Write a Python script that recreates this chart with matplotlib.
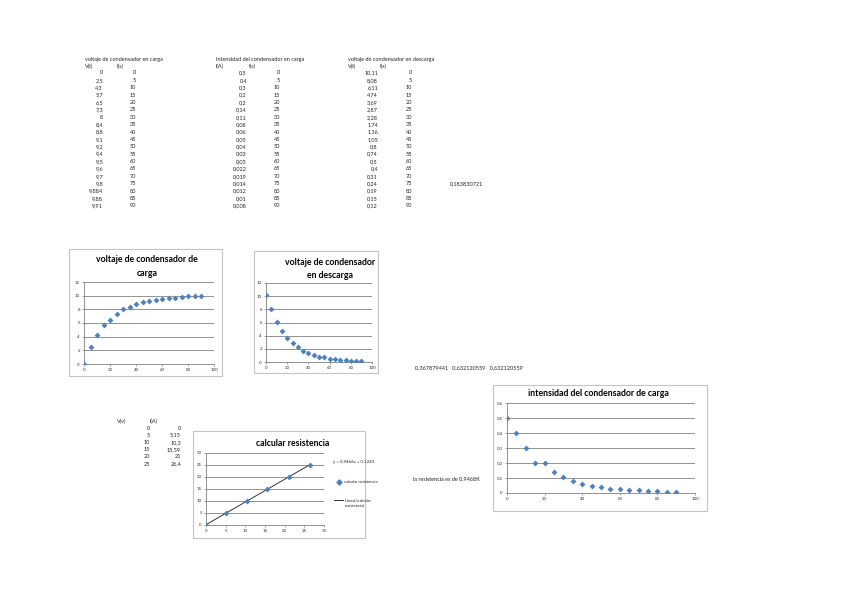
import numpy as np
import matplotlib
matplotlib.use("Agg")
import matplotlib.pyplot as plt
from matplotlib.patches import Rectangle

plt.rcParams['font.family'] = ['Lato', 'DejaVu Sans']

W, H = 848, 599

# ---------------- data ----------------
t_s = [0, 5, 10, 15, 20, 25, 30, 35, 40, 45, 50, 55, 60, 65, 70, 75, 80, 85, 90]
v_carga = [0, 2.5, 4.3, 5.7, 6.5, 7.3, 8, 8.4, 8.8, 9.1, 9.2, 9.4, 9.5, 9.6, 9.7, 9.8, 9.884, 9.88, 9.91]
v_carga_lbl = ["0", "2,5", "4,3", "5,7", "6,5", "7,3", "8", "8,4", "8,8", "9,1", "9,2", "9,4", "9,5",
               "9,6", "9,7", "9,8", "9,884", "9,88", "9,91"]
i_carga = [0.5, 0.4, 0.3, 0.2, 0.2, 0.14, 0.11, 0.08, 0.06, 0.05, 0.04, 0.03, 0.03, 0.022, 0.019,
           0.014, 0.012, 0.01, 0.008]
i_carga_lbl = ["0,5", "0,4", "0,3", "0,2", "0,2", "0,14", "0,11", "0,08", "0,06", "0,05", "0,04",
               "0,03", "0,03", "0,022", "0,019", "0,014", "0,012", "0,01", "0,008"]
v_desc = [10.11, 8.08, 6.11, 4.74, 3.69, 2.87, 2.28, 1.74, 1.36, 1.05, 0.8, 0.74, 0.5, 0.4, 0.31,
          0.24, 0.19, 0.15, 0.12]
v_desc_lbl = ["10,11", "8,08", "6,11", "4,74", "3,69", "2,87", "2,28", "1,74", "1,36", "1,05", "0,8",
              "0,74", "0,5", "0,4", "0,31", "0,24", "0,19", "0,15", "0,12"]
res_v = [0, 5, 10, 15, 20, 25]
res_i = [0, 5.15, 10.3, 15.59, 21, 26.4]
res_i_lbl = ["0", "5,15", "10,3", "15,59", "21", "26,4"]

BLUE = '#4F81BD'
GRID = '#808080'
FS_T = 4.0
MS = 9

fig = plt.figure(figsize=(W / 100, H / 100), dpi=100)
fig.patch.set_facecolor('white')


def fx(x):
    return x / W


def fy(y):
    return 1 - y / H


def txt(x, y, s, ha='left', size=FS_T, **kw):
    fig.text(fx(x), fy(y), s, ha=ha, va='center', fontsize=size, color='#222222', **kw)


def box(x0, y0, x1, y1):
    fig.patches.append(Rectangle((fx(x0), fy(y1)), fx(x1) - fx(x0), fy(y0) - fy(y1),
                                 transform=fig.transFigure, fill=False,
                                 edgecolor='#C4C4C4', lw=0.8))


def make_ax(x0, x1, ytop, ybot):
    ax = fig.add_axes([fx(x0), fy(ybot), fx(x1) - fx(x0), fy(ytop) - fy(ybot)])
    ax.set_facecolor('none')
    for s in ['top', 'right']:
        ax.spines[s].set_visible(False)
    for s in ['left', 'bottom']:
        ax.spines[s].set_color(GRID)
        ax.spines[s].set_linewidth(0.6)
    ax.grid(axis='y', color=GRID, lw=0.6)
    ax.set_axisbelow(True)
    ax.tick_params(labelsize=3.2, length=1.5, width=0.5, color=GRID, pad=1.5, labelcolor='#333333')
    return ax


# ---------------- tables ----------------
row_y = [73 + i * 7.38 for i in range(19)]

txt(85, 59, "voltaje de condensador en carga")
txt(85, 66, "V(t)")
txt(117, 66, "t(s)")
for y, a, b in zip(row_y, v_carga_lbl, t_s):
    txt(103, y, a, ha='right')
    txt(136, y, str(b), ha='right')

txt(216, 59, "Intensidad del condensador en carga")
txt(216, 66, "I(A)")
txt(249, 66, "t(s)")
for y, a, b in zip(row_y, i_carga_lbl, t_s):
    txt(247, y, a, ha='right')
    txt(280, y, str(b), ha='right')

txt(348, 59, "voltaje de condensador en descarga")
txt(348, 66, "V(t)")
txt(380, 66, "t(s)")
for y, a, b in zip(row_y, v_desc_lbl, t_s):
    txt(378, y, a, ha='right')
    txt(412, y, str(b), ha='right')
txt(450, row_y[15], "0,183830721")

txt(415, 368, "0,367879441   0,632120559   0,632120559")

txt(117, 421, "V(v)")
txt(150, 421, "I(A)")
for k, (a, b) in enumerate(zip(res_v, res_i_lbl)):
    y = 428 + k * 7.2
    txt(150, y, str(a), ha='right')
    txt(181, y, b, ha='right')

txt(413, 479, "la resistencia es de 0,9468K")

# ---------------- chart 1 ----------------
box(69, 249, 222, 376)
ax1 = make_ax(84, 214, 282, 364)
ax1.scatter(t_s, v_carga, marker='D', s=MS, color=BLUE, zorder=3, linewidths=0)
ax1.set_xlim(0, 100)
ax1.set_ylim(0, 12)
ax1.set_xticks(range(0, 101, 20))
ax1.set_yticks(range(0, 13, 2))
fig.text(fx(147), fy(266.5), "voltaje de condensador de\ncarga", ha='center', va='center',
         fontsize=6.3, fontweight='bold', linespacing=1.6)

# ---------------- chart 2 ----------------
box(254, 251, 378, 373)
ax2 = make_ax(266, 372, 283, 362)
ax2.scatter(t_s, v_desc, marker='D', s=MS, color=BLUE, zorder=3, linewidths=0)
ax2.set_xlim(0, 100)
ax2.set_ylim(0, 12)
ax2.set_xticks(range(0, 101, 20))
ax2.set_yticks(range(0, 13, 2))
fig.text(fx(330), fy(269), "voltaje de condensador\nen descarga", ha='center', va='center',
         fontsize=6.3, fontweight='bold', linespacing=1.5)

# ---------------- chart 3 ----------------
box(493, 385, 707, 511)
ax3 = make_ax(507, 695, 403, 493)
ax3.scatter(t_s, i_carga, marker='D', s=MS, color=BLUE, zorder=3, linewidths=0)
ax3.set_xlim(0, 100)
ax3.set_ylim(0, 0.6)
ax3.set_xticks(range(0, 101, 20))
yt3 = [0, 0.1, 0.2, 0.3, 0.4, 0.5, 0.6]
ax3.set_yticks(yt3)
ax3.set_yticklabels(["0", "0,1", "0,2", "0,3", "0,4", "0,5", "0,6"])
fig.text(fx(598), fy(394), "intensidad del condensador de carga", ha='center', va='center',
         fontsize=6.3, fontweight='bold')

# ---------------- chart 4 ----------------
box(193, 431, 365, 538)
ax4 = make_ax(206, 324, 453, 525)
coef = np.polyfit(res_i, res_v, 1)
xx = np.array([min(res_i), max(res_i)])
ax4.plot(xx, np.polyval(coef, xx), color='#333333', lw=0.7, zorder=2)
ax4.scatter(res_i, res_v, marker='D', s=MS, color=BLUE, zorder=3, linewidths=0)
ax4.set_xlim(0, 30)
ax4.set_ylim(0, 30)
ax4.set_xticks(range(0, 31, 5))
ax4.set_yticks(range(0, 31, 5))
fig.text(fx(293), fy(443), "calcular resistencia", ha='center', va='center',
         fontsize=6.3, fontweight='bold')
eq = "y = %.4fx + %.4f" % (coef[0], coef[1])
txt(333, 462, eq.replace('.', ','), size=3.2)
# legend
fig.lines.append(plt.Line2D([fx(339)], [fy(482)], marker='D', markersize=2.6, color=BLUE,
                            lw=0, transform=fig.transFigure))
txt(344, 482, "calcular resistencia", size=3.0)
fig.lines.append(plt.Line2D([fx(334), fx(343)], [fy(500), fy(500)], color='#333333', lw=0.7,
                            transform=fig.transFigure))
txt(345, 500, "Lineal (calcular", size=3.0)
txt(345, 505, "resistencia)", size=3.0)

fig.savefig("out.png", dpi=100, facecolor='white')
